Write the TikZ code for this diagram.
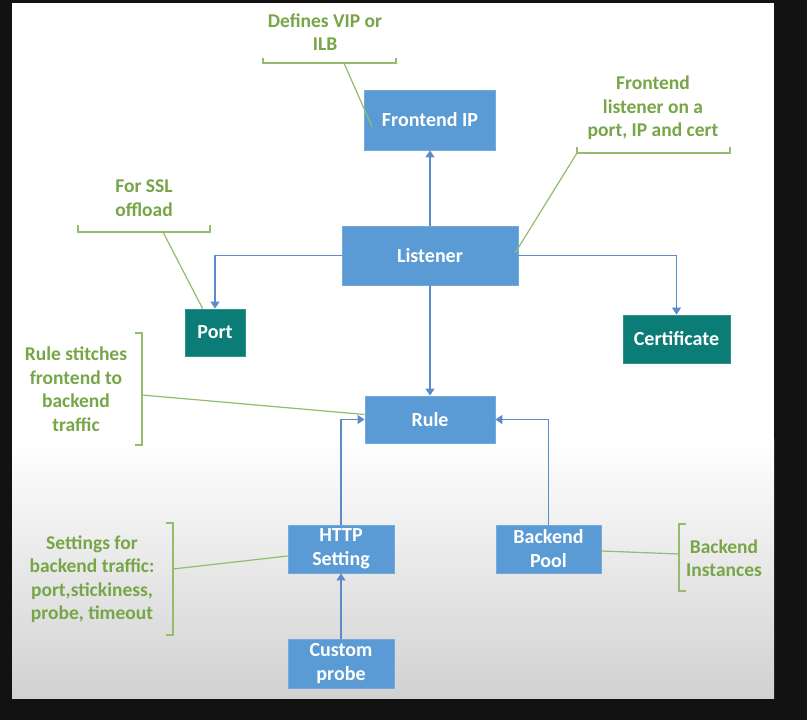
\documentclass[tikz,border=0pt]{standalone}
\usepackage{fontspec}
\setmainfont{Carlito}
\usepackage{tikz}
\usetikzlibrary{arrows.meta,calc}
\definecolor{boxblue}{HTML}{5B9BD5}
\definecolor{boxteal}{HTML}{0B7C76}
\definecolor{arrblue}{HTML}{5A8BCB}
\definecolor{notegreen}{HTML}{77A547}
\definecolor{linegreen}{HTML}{93BC6C}
\tikzset{
  bluebox/.style={fill=boxblue,draw=boxblue!85!white,line width=0.8pt,text=white,
    font=\fontsize{20}{24}\selectfont\bfseries,align=center,inner sep=0pt},
  tealbox/.style={bluebox,fill=boxteal,draw=boxteal!85!white},
  arr/.style={draw=arrblue,line width=1.3pt,-{Triangle[width=9pt,length=7pt]}},
  notetext/.style={text=notegreen,font=\fontsize{19.5}{23.5}\selectfont\bfseries,align=center},
  noteline/.style={draw=linegreen,line width=1.2pt}
}
\begin{document}
\begin{tikzpicture}[x=1pt,y=-1pt]
\useasboundingbox (0,0) rectangle (807,720);
% slide background:
\fill[black!93] (0,0) rectangle (807,720);
\fill[white] (12,3) rectangle (774,440);
\shade[top color=white,bottom color=gray!36] (12,439) rectangle (774,698);
% boxes:
\node[bluebox,minimum width=131,minimum height=60] (fip) at (430,120) {Frontend IP};
\node[bluebox,minimum width=176,minimum height=59] (lis) at (430,255.5) {Listener};
\node[tealbox,minimum width=60,minimum height=47] (port) at (215,332.5) {Port};
\node[tealbox,minimum width=107,minimum height=48] (cert) at (676.5,339) {Certificate};
\node[bluebox,minimum width=130,minimum height=47] (rule) at (430,419.5) {Rule};
\node[bluebox,minimum width=106,minimum height=48] (set) at (341,549) {HTTP\\Setting};
\node[bluebox,minimum width=105,minimum height=48] (pool) at (548.5,549) {Backend\\Pool};
\node[bluebox,minimum width=106,minimum height=49] (probe) at (341,663.5) {Custom\\probe};
% arrows:
\draw[arr] (lis.north) -- (fip.south);
\draw[arr] (lis.west) -| (port.north);
\draw[arr] (lis.east) -| (cert.north);
\draw[arr] (lis.south) -- (rule.north);
\draw[arr] (set.north) |- (rule.west);
\draw[arr] (pool.north) |- (rule.east);
\draw[arr] (probe.north) -- (set.south);
% notes:
\node[notetext] (tvip) at (325,32) {Defines VIP or\\ILB};
\node[notetext] (tlis) at (653,108) {Frontend\\listener on a\\port, IP and cert};
\node[notetext] (tssl) at (144,198) {For SSL\\offload};
\node[notetext] (trule) at (76,389) {Rule stitches\\frontend to\\backend\\traffic};
\node[notetext] (tset) at (92,579) {Settings for\\backend traffic:\\port,stickiness,\\probe, timeout};
\node[notetext] (tbe) at (724,558) {Backend\\Instances};
% note brackets:
\draw[noteline] (263,58) -- (263,63) -- (396,63) -- (396,58);
\draw[noteline] (577,147) -- (577,153) -- (730,153) -- (730,147);
\draw[noteline] (78,225) -- (78,232) -- (210,232) -- (210,225);
\draw[noteline] (135,333) -- (142,333) -- (142,445) -- (135,445);
\draw[noteline] (166,523) -- (173,523) -- (173,635) -- (166,635);
\draw[noteline] (686,524) -- (679,524) -- (679,591) -- (686,591);
\coordinate (bvip) at (344,63);
\coordinate (blis) at (577,153);
\coordinate (bssl) at (163,232);
\coordinate (brule) at (142,395);
\coordinate (bset) at (173,569);
\coordinate (bbe) at (679,554);
% note leaders:
\draw[noteline] (bvip) -- ($(fip.west)+(8,7)$);
\draw[noteline] (blis) -- ($(lis.east)+(-3,-3)$);
\draw[noteline] (bssl) -- ($(port.north west)+(18,0)$);
\draw[noteline] (brule) -- ($(rule.west)+(0,-5)$);
\draw[noteline] (bset) -- ($(set.west)+(0,7)$);
\draw[noteline] ($(pool.east)+(0,2)$) -- (bbe);
\end{tikzpicture}
\end{document}
